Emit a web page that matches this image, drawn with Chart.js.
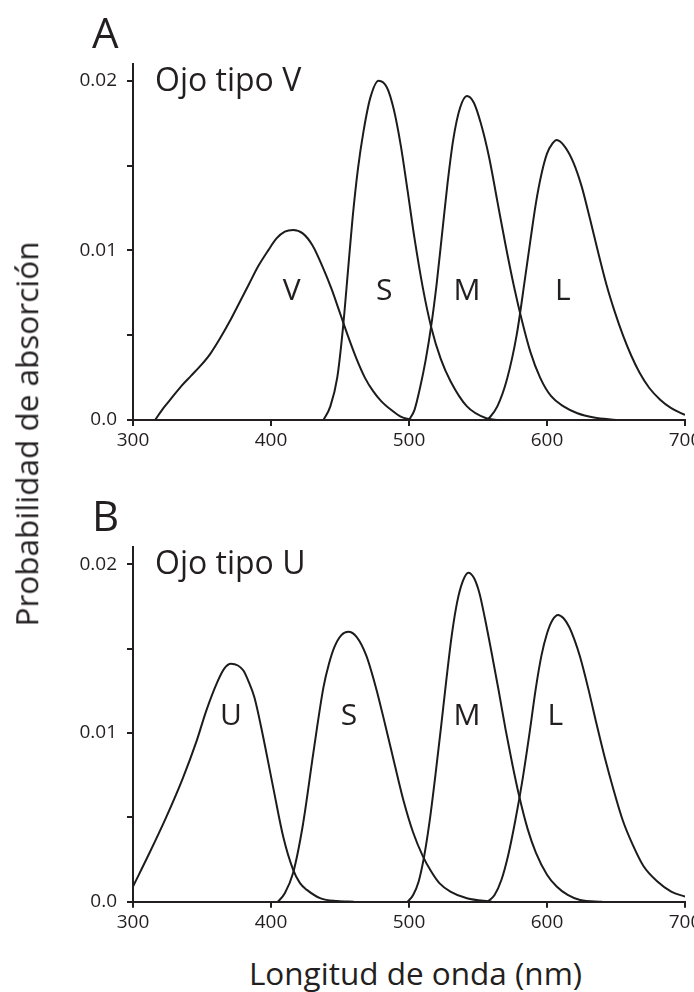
<!DOCTYPE html>
<html lang="es">
<head>
<meta charset="utf-8">
<title>Probabilidad de absorción</title>
<script src="https://cdn.jsdelivr.net/npm/chart.js@4"></script>
<style>
  html, body { margin: 0; padding: 0; background: #fff; }
  body { width: 694px; height: 992px; overflow: hidden; position: relative; font-family: 'Open Sans', sans-serif; color: #231f20; }
  canvas { position: absolute; left: 0; }
  #chartA { top: 0; }
  #chartB { top: 480px; }
  .axis-title { position: absolute; font-size: 31.5px; line-height: 1; white-space: nowrap; }
  #yTitle { left: 25.5px; top: 434px; transform: translate(-50%, -50%) rotate(-90deg); }
  #xTitle { left: 415.5px; top: 973px; transform: translate(-50%, -50%); }
</style>
</head>
<body>
<canvas id="chartA" width="720" height="460"></canvas>
<canvas id="chartB" width="720" height="460"></canvas>
<div class="axis-title" id="yTitle">Probabilidad de absorción</div>
<div class="axis-title" id="xTitle">Longitud de onda (nm)</div>
<script>
'use strict';

// ── Data ─────────────────────────────────────────────────────────────────────

const xTickValues = [300, 400, 500, 600, 700];
const yTickValues = [0, 0.005, 0.01, 0.015, 0.02];
const yTickLabels = ['0.0', '', '0.01', '', '0.02'];

// Panel A: ojo tipo V
const vWl  = [316, 322, 328, 335, 342, 349, 356, 363, 370, 377, 384, 391, 398, 404, 410, 416,
              423, 430, 437, 444, 450, 456, 462, 468, 474, 480, 487, 494, 502];
const vAbs = [0, 0.0007, 0.0013, 0.0020, 0.0026, 0.0032, 0.0039, 0.0048, 0.0058, 0.0069, 0.0080, 0.0091, 0.0100, 0.0107, 0.0111, 0.0112,
              0.0110, 0.0103, 0.0091, 0.0077, 0.0063, 0.0049, 0.0036, 0.0025, 0.0017, 0.0011, 0.0006, 0.0002, 0];

const sAWl  = [438, 443, 448, 452, 456, 459, 463, 467, 472, 478, 484, 489, 494, 499, 504, 510, 516, 523, 530, 542, 556, 565];
const sAAbs = [0, 0.0008, 0.0025, 0.0053, 0.0090, 0.0118, 0.0148, 0.0170, 0.0190, 0.0200, 0.0196, 0.0183, 0.0162, 0.0135, 0.0107, 0.0078, 0.0055, 0.0036, 0.0023, 0.0008, 0.0001, 0];

const mAWl  = [500, 504, 508, 512, 516, 520, 524, 528, 532, 537, 542, 547, 552, 558, 564, 570, 576, 582, 588, 595, 603, 612, 622, 634, 650];
const mAAbs = [0, 0.0006, 0.0019, 0.0035, 0.0055, 0.0080, 0.0110, 0.0140, 0.0165, 0.0184, 0.0191, 0.0187, 0.0175, 0.0155, 0.0129, 0.0103, 0.0079, 0.0058, 0.0040, 0.0025, 0.0014, 0.0008, 0.0004, 0.00015, 0];

const lAWl  = [557, 564, 571, 578, 584, 588, 592, 596, 600, 604, 607, 613, 619, 625, 631, 637, 643, 649, 655, 661, 667, 674, 682, 690, 700];
const lAAbs = [0, 0.0008, 0.0024, 0.0050, 0.0083, 0.0106, 0.0128, 0.0145, 0.0157, 0.0163, 0.0165, 0.0161, 0.0152, 0.0138, 0.0119, 0.0099, 0.0080, 0.0064, 0.0050, 0.0038, 0.0028, 0.0019, 0.0012, 0.0007, 0.0003];

// Panel B: ojo tipo U
const uWl  = [300, 312, 324, 336, 346, 353, 361, 366, 371, 376, 380, 384, 388, 394, 402, 409, 416, 421, 426, 436, 448, 460];
const uAbs = [0.0009, 0.0029, 0.0050, 0.0073, 0.0095, 0.0113, 0.0130, 0.0138, 0.0141, 0.0140, 0.0137, 0.0130, 0.0121, 0.0099, 0.0066, 0.0038, 0.0019, 0.0011, 0.0007, 0.0002, 0.00004, 0];

const sBWl  = [405, 410, 416, 423, 431, 438, 442, 446, 451, 456, 462, 469, 476, 483, 490, 496, 503, 510, 516, 522, 530, 542, 560];
const sBAbs = [0, 0.0005, 0.0017, 0.0045, 0.0090, 0.0127, 0.0141, 0.0151, 0.0158, 0.0160, 0.0157, 0.0146, 0.0127, 0.0104, 0.0080, 0.0060, 0.0041, 0.0027, 0.0018, 0.0011, 0.0006, 0.0002, 0];

const mBWl  = [499, 503, 507, 511, 515, 519, 523, 527, 531, 535, 539, 543, 547, 551, 555, 560, 565, 570, 575, 580, 586, 592, 600, 607, 615, 624, 640];
const mBAbs = [0, 0.0004, 0.0012, 0.0027, 0.0048, 0.0074, 0.0102, 0.0131, 0.0158, 0.0178, 0.0190, 0.0195, 0.0192, 0.0183, 0.0168, 0.0147, 0.0125, 0.0102, 0.0081, 0.0062, 0.0043, 0.0029, 0.0016, 0.0009, 0.0004, 0.0001, 0];

const lBWl  = [557, 562, 567, 572, 577, 582, 587, 592, 596, 600, 604, 608, 612, 616, 620, 624, 630, 636, 642, 648, 655, 662, 670, 680, 690, 700];
const lBAbs = [0, 0.0004, 0.0013, 0.0028, 0.0048, 0.0071, 0.0098, 0.0127, 0.0146, 0.0159, 0.0167, 0.0170, 0.0168, 0.0163, 0.0155, 0.0145, 0.0126, 0.0105, 0.0085, 0.0067, 0.0048, 0.0034, 0.0021, 0.0012, 0.0006, 0.0003];

// Curve labels (wavelength, absorption)
const labelsA = [
  { text: 'V', x: 415, y: 0.0076 },
  { text: 'S', x: 482, y: 0.0076 },
  { text: 'M', x: 542, y: 0.0076 },
  { text: 'L', x: 611.5, y: 0.0076 },
];
const labelsB = [
  { text: 'U', x: 371, y: 0.0110 },
  { text: 'S', x: 456.5, y: 0.0110 },
  { text: 'M', x: 542, y: 0.0110 },
  { text: 'L', x: 606, y: 0.0110 },
];

// ── Helpers ──────────────────────────────────────────────────────────────────

const INK  = '#231f20';
const FONT = "'Open Sans', sans-serif";

const toPoints = (xs, ys) => xs.map((x, i) => ({ x, y: ys[i] }));

const curve = (xs, ys) => ({
  data: toPoints(xs, ys),
  borderColor: '#1c1c1c',
  borderWidth: 2,
  pointRadius: 0,
  fill: false,
  cubicInterpolationMode: 'monotone',
});

const panelText = {
  id: 'panelText',
  afterDraw(chart, args, opts) {
    const { ctx, chartArea } = chart;
    const sx = chart.scales.x, sy = chart.scales.y;
    ctx.save();
    ctx.fillStyle = INK;

    ctx.textAlign = 'left';
    ctx.textBaseline = 'alphabetic';
    ctx.font = `42px ${FONT}`;
    ctx.fillText(opts.letter, chartArea.left - 41, chartArea.top - 16);

    ctx.font = `32px ${FONT}`;
    ctx.fillText(opts.eye, chartArea.left + 22, chartArea.top + 27);

    ctx.textAlign = 'center';
    ctx.textBaseline = 'middle';
    ctx.font = `30px ${FONT}`;
    opts.labels.forEach(l => {
      ctx.fillText(l.text, sx.getPixelForValue(l.x), sy.getPixelForValue(l.y));
    });
    ctx.restore();
  },
};

function makePanel(canvasId, datasets, topPad, xHeight, letter, eye, labels) {
  return new Chart(document.getElementById(canvasId).getContext('2d'), {
    type: 'line',
    data: { datasets },
    plugins: [panelText],
    options: {
      responsive: false,
      animation: false,
      events: [],
      layout: { padding: { top: topPad, right: 35, left: 0, bottom: 0 } },
      plugins: {
        legend: { display: false },
        tooltip: { enabled: false },
        panelText: { letter, eye, labels },
      },
      scales: {
        x: {
          type: 'linear',
          min: 300,
          max: 700,
          afterFit: s => { s.height = xHeight; },
          afterBuildTicks: s => { s.ticks = xTickValues.map(v => ({ value: v })); },
          border: { display: true, color: INK, width: 2 },
          grid: { drawOnChartArea: false, drawTicks: true, tickLength: 6, color: INK, lineWidth: 2 },
          ticks: { color: INK, font: { family: FONT, size: 19 }, padding: 3, maxRotation: 0 },
        },
        y: {
          type: 'linear',
          min: 0,
          max: 0.021,
          afterFit: s => { s.width = 133; },
          afterBuildTicks: s => { s.ticks = yTickValues.map(v => ({ value: v })); },
          border: { display: true, color: INK, width: 2 },
          grid: { drawOnChartArea: false, drawTicks: true, tickLength: 6, color: INK, lineWidth: 2 },
          ticks: {
            color: INK,
            font: { family: FONT, size: 19 },
            padding: 10,
            callback: (v, i) => yTickLabels[i],
          },
        },
      },
    },
  });
}

makePanel('chartA',
  [curve(vWl, vAbs), curve(sAWl, sAAbs), curve(mAWl, mAAbs), curve(lAWl, lAAbs)],
  63.7, 40, 'A', 'Ojo tipo V', labelsA);

makePanel('chartB',
  [curve(uWl, uAbs), curve(sBWl, sBAbs), curve(mBWl, mBAbs), curve(lBWl, lBAbs)],
  67.4, 38.3, 'B', 'Ojo tipo U', labelsB);
</script>
</body>
</html>
